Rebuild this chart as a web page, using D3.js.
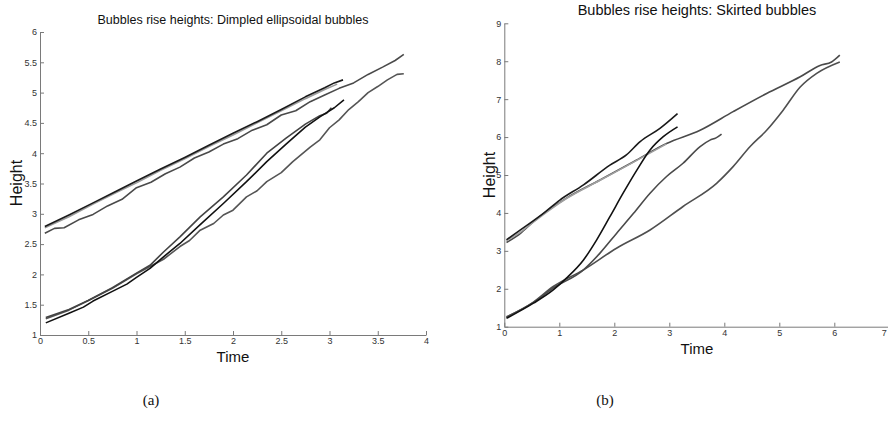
<!DOCTYPE html>
<html>
<head>
<meta charset="utf-8">
<script src="https://cdn.jsdelivr.net/npm/d3@7"></script>
<style>
  body { margin: 0; background: #fff; }
  svg { display: block; font-family: "Liberation Sans", Arial, sans-serif; }
</style>
</head>
<body>
<svg id="chart" width="888" height="433"></svg>
<script>
// ---- data: [time, height] pairs ----

// (a) dimpled ellipsoidal bubbles
const dimUpBlack = [[0.05,2.79],[0.3,2.98],[0.55,3.18],[0.8,3.38],[1.0,3.54],[1.25,3.74],[1.5,3.93],[1.75,4.13],[2.0,4.33],[2.25,4.52],[2.5,4.72],[2.75,4.93],[2.95,5.08],[3.05,5.16],[3.14,5.21]];
const dimUpLight = [[0.05,2.77],[0.3,2.95],[0.55,3.16],[0.8,3.36],[1.0,3.51],[1.25,3.72],[1.5,3.91],[1.75,4.11],[2.0,4.3],[2.25,4.5],[2.5,4.7],[2.75,4.9],[2.95,5.05],[3.08,5.14]];
const dimUpDark = [[0.05,2.68],[0.15,2.76],[0.25,2.77],[0.4,2.9],[0.55,2.99],[0.7,3.13],[0.85,3.24],[1.0,3.43],[1.15,3.52],[1.3,3.66],[1.45,3.77],[1.6,3.92],[1.75,4.02],[1.9,4.15],[2.05,4.24],[2.2,4.38],[2.35,4.47],[2.5,4.63],[2.65,4.7],[2.8,4.85],[2.95,4.96],[3.1,5.07],[3.25,5.16],[3.4,5.3],[3.55,5.42],[3.68,5.53],[3.77,5.63]];
const dimLowBlack = [[0.06,1.2],[0.3,1.36],[0.45,1.46],[0.55,1.56],[0.75,1.72],[0.9,1.84],[1.0,1.95],[1.14,2.1],[1.28,2.29],[1.45,2.51],[1.66,2.82],[1.9,3.17],[2.14,3.53],[2.35,3.86],[2.55,4.15],[2.75,4.43],[2.9,4.6],[3.05,4.75],[3.15,4.88]];
const dimLowA = [[0.06,1.29],[0.3,1.42],[0.5,1.57],[0.75,1.78],[1.0,2.02],[1.14,2.15],[1.28,2.37],[1.45,2.62],[1.66,2.95],[1.9,3.28],[2.14,3.64],[2.35,4.0],[2.55,4.25],[2.75,4.48],[2.9,4.62],[2.97,4.66],[3.02,4.75]];
const dimLowB = [[0.06,1.27],[0.3,1.41],[0.5,1.57],[0.75,1.77],[1.0,2.01],[1.14,2.13],[1.28,2.25],[1.45,2.46],[1.55,2.56],[1.66,2.73],[1.8,2.84],[1.9,2.98],[2.0,3.06],[2.14,3.28],[2.25,3.38],[2.35,3.53],[2.5,3.68],[2.62,3.86],[2.8,4.1],[2.9,4.22],[3.0,4.42],[3.1,4.55],[3.2,4.72],[3.3,4.85],[3.4,5.0],[3.5,5.1],[3.6,5.21],[3.7,5.3],[3.77,5.31]];

// (b) skirted bubbles
const skUpBlack = [[0.04,3.29],[0.3,3.56],[0.71,3.99],[1.01,4.34],[1.44,4.74],[1.92,5.26],[2.22,5.53],[2.47,5.88],[2.83,6.23],[3.15,6.62]];
const skUpLight = [[0.04,3.27],[0.3,3.5],[0.53,3.76],[1.13,4.38],[1.74,4.86],[2.35,5.34],[2.95,5.82]];
const skUpGray = [[0.04,3.22],[0.3,3.47],[0.53,3.77],[1.13,4.39],[1.74,4.87],[2.35,5.35],[2.95,5.83],[3.56,6.18],[4.16,6.67],[4.77,7.15],[5.38,7.59],[5.74,7.89],[5.95,7.98],[6.1,8.16]];
const skLowBlack = [[0.04,1.22],[0.53,1.62],[0.89,1.97],[1.13,2.28],[1.44,2.76],[1.68,3.29],[1.92,3.9],[2.16,4.52],[2.41,5.13],[2.65,5.66],[2.89,6.01],[3.15,6.27]];
const skLowMid = [[0.04,1.25],[0.53,1.64],[0.89,2.02],[1.44,2.5],[1.74,2.94],[2.04,3.46],[2.35,3.99],[2.65,4.52],[2.95,4.96],[3.25,5.31],[3.56,5.75],[3.74,5.92],[3.85,5.98],[3.95,6.08]];
const skLowGray = [[0.04,1.26],[0.53,1.65],[0.89,2.06],[1.44,2.5],[2.04,3.07],[2.65,3.55],[3.25,4.17],[3.86,4.78],[4.16,5.22],[4.47,5.75],[4.77,6.18],[5.07,6.71],[5.38,7.32],[5.68,7.68],[6.1,7.98]];

const dimYTicks = [1, 1.5, 2, 2.5, 3, 3.5, 4, 4.5, 5, 5.5, 6];
const dimXTicks = [0, 0.5, 1, 1.5, 2, 2.5, 3, 3.5, 4];
const skYTicks = [1, 2, 3, 4, 5, 6, 7, 8, 9];
const skXTicks = [0, 1, 2, 3, 4, 5, 6, 7];

const axisColor = "#7a7a7a";
const svg = d3.select("#chart");

function panel(opt) {
  const x = d3.scaleLinear().domain(opt.xDomain).range(opt.xRange);
  const y = d3.scaleLinear().domain(opt.yDomain).range(opt.yRange);
  const g = svg.append("g");

  const xAxis = d3.axisBottom(x).tickValues(opt.xTicks).tickFormat(d3.format("")).tickSizeInner(-4).tickSizeOuter(0).tickPadding(3);
  const yAxis = d3.axisLeft(y).tickValues(opt.yTicks).tickFormat(d3.format("")).tickSizeInner(-4).tickSizeOuter(0).tickPadding(3);

  const gx = g.append("g").attr("transform", `translate(0,${opt.yRange[0]})`).call(xAxis);
  const gy = g.append("g").attr("transform", `translate(${opt.xRange[0]},0)`).call(yAxis);
  [gx, gy].forEach(a => {
    a.select(".domain").attr("stroke", axisColor);
    a.selectAll(".tick line").attr("stroke", axisColor);
    a.selectAll(".tick text").attr("fill", "#333").attr("font-size", 9).attr("font-family", "Liberation Sans, Arial, sans-serif");
  });
  // last x label sits at the page edge, keep it inside
  gx.selectAll(".tick text").filter(d => x(d) > 880).attr("text-anchor", "end").attr("dx", -3);

  const line = d3.line().x(d => x(d[0])).y(d => y(d[1])).curve(opt.curve);
  g.append("g")
    .attr("fill", "none")
    .attr("stroke-width", 1.6)
    .attr("stroke-linejoin", "round")
    .selectAll("path")
    .data(opt.series)
    .join("path")
    .attr("d", d => line(d.values))
    .attr("stroke", d => d.color);

  g.append("text")
    .attr("x", opt.titleX).attr("y", opt.titleY)
    .attr("text-anchor", "middle").attr("font-size", opt.titleSize).attr("fill", "#111")
    .text(opt.title);
  g.append("text")
    .attr("x", opt.titleX).attr("y", opt.xLabelY)
    .attr("text-anchor", "middle").attr("font-size", 15).attr("fill", "#111")
    .text("Time");
  g.append("text")
    .attr("transform", `translate(${opt.yLabelX},${opt.yLabelY}) rotate(-90)`)
    .attr("text-anchor", "middle").attr("font-size", 16).attr("fill", "#111")
    .text("Height");
  g.append("text")
    .attr("x", opt.capX).attr("y", 405)
    .attr("text-anchor", "middle").attr("font-size", 15)
    .attr("font-family", "Liberation Serif, Times New Roman, serif").attr("fill", "#111")
    .text(opt.caption);
}

panel({
  xDomain: [0, 4], xRange: [40, 426],
  yDomain: [1, 6], yRange: [335, 32],
  xTicks: dimXTicks, yTicks: dimYTicks,
  curve: d3.curveLinear,
  title: "Bubbles rise heights: Dimpled ellipsoidal bubbles",
  titleX: 233, titleY: 24, titleSize: 12.5, xLabelY: 362,
  yLabelX: 22, yLabelY: 183,
  capX: 151, caption: "(a)",
  series: [
    {values: dimUpDark, color: "#4a4a4a"},
    {values: dimUpLight, color: "#9a9a9a"},
    {values: dimUpBlack, color: "#1a1a1a"},
    {values: dimLowB, color: "#555555"},
    {values: dimLowA, color: "#444444"},
    {values: dimLowBlack, color: "#111111"}
  ]
});

panel({
  xDomain: [0, 7], xRange: [504.3, 889.3],
  yDomain: [1, 9], yRange: [326.7, 23.3],
  xTicks: skXTicks, yTicks: skYTicks,
  curve: d3.curveMonotoneX,
  title: "Bubbles rise heights: Skirted bubbles",
  titleX: 697, titleY: 15, titleSize: 14.5, xLabelY: 354,
  yLabelX: 495, yLabelY: 175,
  capX: 605, caption: "(b)",
  series: [
    {values: skUpGray, color: "#4a4a4a"},
    {values: skUpLight, color: "#a0a0a0"},
    {values: skUpBlack, color: "#1a1a1a"},
    {values: skLowGray, color: "#4f4f4f"},
    {values: skLowMid, color: "#4a4a4a"},
    {values: skLowBlack, color: "#111111"}
  ]
});
</script>
</body>
</html>
